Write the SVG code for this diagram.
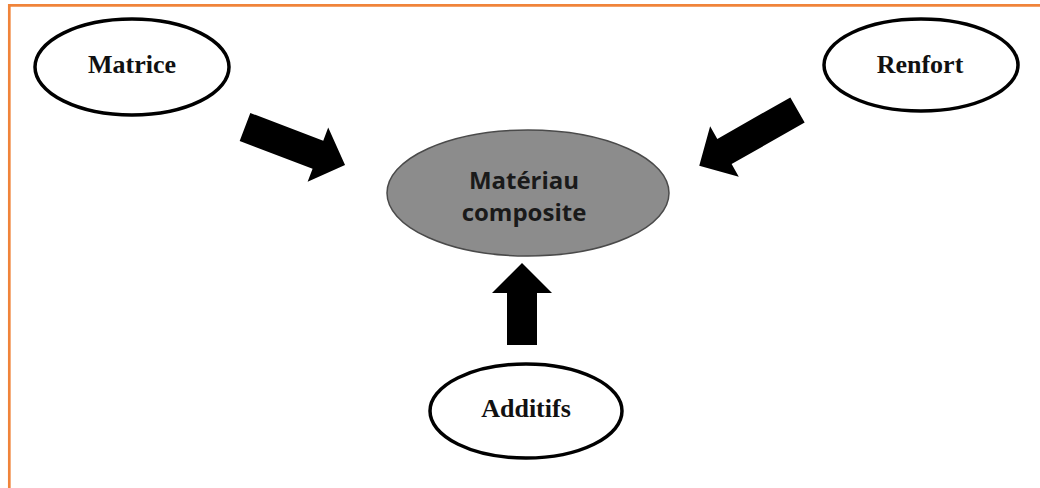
<svg xmlns="http://www.w3.org/2000/svg" width="1040" height="488" viewBox="0 0 1040 488">
<style>
.frame{stroke:#f0843a;stroke-width:2.7;fill:none}
.node{fill:#ffffff;stroke:#000000;stroke-width:3.5}
.center{fill:#8c8c8c;stroke:#4a4a4a;stroke-width:1.5}
.lbl{font-family:"Liberation Serif","Times New Roman",serif;font-weight:bold;font-size:26px;fill:#111111;text-anchor:middle}
.clbl{font-family:"Open Sans","Liberation Sans",Arial,sans-serif;font-weight:bold;font-size:24px;fill:#1a1a1a;text-anchor:middle}
.arrow{fill:#000000}
</style>
<rect width="1040" height="488" fill="#ffffff"/>
<g id="frame">
<line class="frame" x1="9.3" y1="5.3" x2="1040" y2="5.3"/>
<line class="frame" x1="9.3" y1="4" x2="9.3" y2="488"/>
</g>
<g id="connectors">
<path class="arrow" d="M0,-15 L78,-15 L78,-29 L107,0 L78,29 L78,15 L0,15 Z" transform="translate(245,127) rotate(20.8)"/>
<path class="arrow" d="M0,-14.5 L84,-14.5 L84,-29 L113,0 L84,29 L84,14.5 L0,14.5 Z" transform="translate(797.5,110) rotate(150.4)"/>
<path class="arrow" d="M507,345 L507,293 L492,293 L522,263 L552,293 L537,293 L537,345 Z"/>
</g>
<g id="matrice">
<ellipse class="node" cx="132" cy="67" rx="97" ry="48"/>
<text class="lbl" x="132" y="73">Matrice</text>
</g>
<g id="renfort">
<ellipse class="node" cx="921" cy="65" rx="97" ry="46"/>
<text class="lbl" x="920" y="73">Renfort</text>
</g>
<g id="materiau">
<ellipse class="center" cx="528" cy="193" rx="141" ry="63"/>
<text class="clbl" x="524" y="189">Matériau</text>
<text class="clbl" x="524" y="221">composite</text>
</g>
<g id="additifs">
<ellipse class="node" cx="526" cy="411" rx="96" ry="47"/>
<text class="lbl" x="526" y="417">Additifs</text>
</g>
</svg>
